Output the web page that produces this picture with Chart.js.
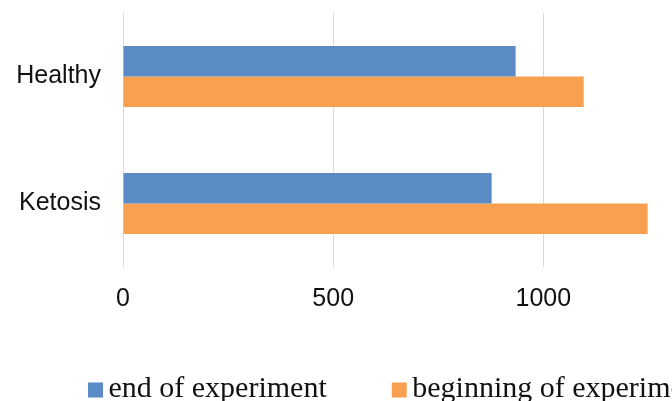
<!DOCTYPE html>
<html>
<head>
<meta charset="utf-8">
<script src="https://cdn.jsdelivr.net/npm/chart.js@4/dist/chart.umd.min.js"></script>
<style>
  html, body { margin: 0; padding: 0; background: #fff; overflow: hidden; }
  #wrap { width: 672px; height: 401px; position: relative; }
</style>
</head>
<body>
<div id="wrap"><canvas id="chart" width="672" height="401"></canvas></div>
<script>
// Groups on the category axis, top to bottom
const categories = ['Healthy', 'Ketosis'];

// Series values
const endOfExperiment = [934, 877];
const beginningOfExperiment = [1096, 1248];

// Series names and colours
const seriesNames = ['end of experiment', 'beginning of experiment'];
const seriesColors = ['#5b8bc4', '#f8a050'];

// Value axis
const axisMin = 0;
const axisMax = 1306;
const tickValues = [0, 500, 1000];

// Legend drawn under the plot, left to right
const bottomLegend = {
  id: 'bottomLegend',
  afterDraw(chart) {
    const ctx = chart.ctx;
    ctx.save();
    ctx.font = '30px "Liberation Serif", "Times New Roman", serif';
    ctx.textBaseline = 'alphabetic';
    ctx.textAlign = 'left';
    let x = 88;
    const box = 15;
    const boxTop = 382.5;
    const baseline = 397;
    chart.data.datasets.forEach((ds) => {
      ctx.fillStyle = ds.backgroundColor;
      ctx.fillRect(x, boxTop, box, box);
      const tx = x + box + 5.5;
      ctx.fillStyle = '#111';
      ctx.fillText(ds.label, tx, baseline);
      x = tx + ctx.measureText(ds.label).width + 65;
    });
    ctx.restore();
  }
};

const axisFont = { family: '"Liberation Sans", Arial, sans-serif', size: 25 };

new Chart(document.getElementById('chart'), {
  type: 'bar',
  data: {
    labels: categories,
    datasets: [
      {
        label: seriesNames[0],
        data: endOfExperiment,
        backgroundColor: seriesColors[0],
        categoryPercentage: 0.48,
        barPercentage: 1.0
      },
      {
        label: seriesNames[1],
        data: beginningOfExperiment,
        backgroundColor: seriesColors[1],
        categoryPercentage: 0.48,
        barPercentage: 1.0
      }
    ]
  },
  options: {
    indexAxis: 'y',
    responsive: false,
    animation: false,
    layout: { padding: { top: 13, right: 0, bottom: 0, left: 0 } },
    plugins: {
      legend: { display: false },
      tooltip: { enabled: false }
    },
    scales: {
      x: {
        min: axisMin,
        max: axisMax,
        afterBuildTicks(scale) {
          scale.ticks = tickValues.map(v => ({ value: v }));
        },
        afterFit(scale) {
          scale.height = 134;
          scale.paddingLeft = 0;
          scale.paddingRight = 0;
        },
        ticks: {
          autoSkip: false,
          padding: 17,
          color: '#111',
          font: axisFont,
          maxRotation: 0,
          callback: (v) => String(v)
        },
        grid: { color: '#d9d9d9', lineWidth: 1, drawTicks: false },
        border: { display: false }
      },
      y: {
        afterFit(scale) {
          scale.width = 123;
          scale.paddingTop = 0;
          scale.paddingBottom = 0;
        },
        ticks: {
          autoSkip: false,
          padding: 22,
          color: '#111',
          font: axisFont
        },
        grid: { display: false, drawTicks: false },
        border: { display: false }
      }
    }
  },
  plugins: [bottomLegend]
});
</script>
</body>
</html>
